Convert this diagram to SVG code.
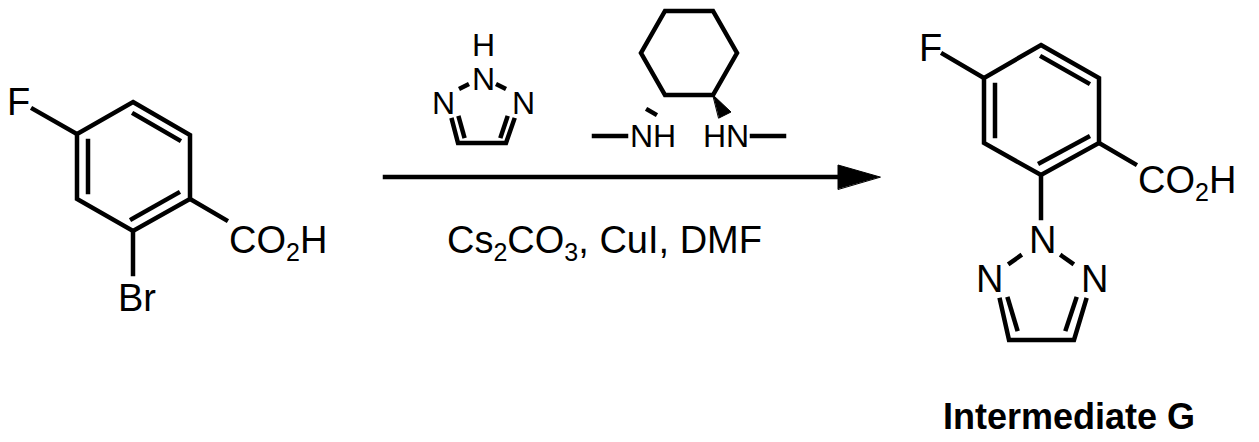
<svg xmlns="http://www.w3.org/2000/svg" width="1259" height="442" viewBox="0 0 1259 442">
<style>
line,polyline,polygon{stroke:#000;stroke-width:4.5;fill:none;stroke-linecap:square}
polygon.f{fill:#000;stroke-width:1}
text{font-family:"Liberation Sans",Arial,sans-serif;font-size:38px;fill:#000}
.s{font-size:25px}
.r{font-size:32px}
.b{font-weight:bold;font-size:36px}
</style>
<rect width="1259" height="442" fill="#fff"/>
<g id="reactant">
<polygon points="133,102 190,135 190,199 133,231 77,199 77,134"/>
<line x1="134" y1="114" x2="179" y2="140"/>
<line x1="88" y1="141" x2="88" y2="192"/>
<line x1="132" y1="219" x2="178" y2="193"/>
<line x1="77" y1="134" x2="33" y2="109"/>
<line x1="190" y1="199" x2="226" y2="220"/>
<line x1="133" y1="231" x2="133" y2="274"/>
<text x="7" y="115">F</text>
<text x="229" y="253">CO<tspan class="s" dy="8">2</tspan><tspan dy="-8">H</tspan></text>
<text x="118" y="311">Br</text>
</g>
<g id="triazole-reagent">
<text class="r" x="472" y="56">H</text>
<text class="r" x="472" y="90">N</text>
<text class="r" x="432" y="114">N</text>
<text class="r" x="512" y="114">N</text>
<line x1="461" y1="88" x2="467" y2="85"/>
<line x1="498" y1="85" x2="504" y2="88"/>
<polyline points="452,120 458,143 506,143 514,120"/>
<line x1="459" y1="118" x2="464" y2="136"/>
<line x1="507" y1="118" x2="501" y2="136"/>
</g>
<g id="diamine">
<polygon points="665,11 713,11 737,53 713,95 665,95 641,53"/>
<polygon class="f" points="713,95 731,112 719,118"/>
<line x1="648" y1="110" x2="655" y2="114" stroke-width="3"/>
<line x1="594" y1="136" x2="626" y2="136"/>
<line x1="752" y1="136" x2="784" y2="136"/>
<text class="r" x="630" y="147">NH</text>
<text class="r" x="703" y="147">HN</text>
</g>
<g id="connectors">
<line x1="385" y1="177" x2="840" y2="177"/>
<polygon class="f" points="880,177 838,165 838,189"/>
</g>
<g id="conditions">
<text x="447" y="253">Cs<tspan class="s" dy="8">2</tspan><tspan dy="-8">CO</tspan><tspan class="s" dy="8">3</tspan><tspan dy="-8">, CuI, DMF</tspan></text>
</g>
<g id="product">
<polygon points="1041,45 1099,78 1099,143 1041,175 984,143 984,78"/>
<line x1="1042" y1="57" x2="1088" y2="83"/>
<line x1="995" y1="85" x2="995" y2="136"/>
<line x1="1040" y1="163" x2="1088" y2="137"/>
<line x1="984" y1="78" x2="943" y2="54"/>
<line x1="1099" y1="143" x2="1135" y2="164"/>
<line x1="1041" y1="175" x2="1041" y2="218"/>
<text x="919" y="61">F</text>
<text x="1138" y="193">CO<tspan class="s" dy="8">2</tspan><tspan dy="-8">H</tspan></text>
<text x="1029" y="253">N</text>
<text x="976" y="292">N</text>
<text x="1081" y="292">N</text>
<line x1="1010" y1="263" x2="1020" y2="256"/>
<line x1="1062" y1="256" x2="1072" y2="263"/>
<polyline points="1000,300 1009,340 1074,340 1086,300"/>
<line x1="1008" y1="299" x2="1017" y2="329"/>
<line x1="1076" y1="299" x2="1066" y2="329"/>
<text class="b" x="943" y="429">Intermediate G</text>
</g>
</svg>
